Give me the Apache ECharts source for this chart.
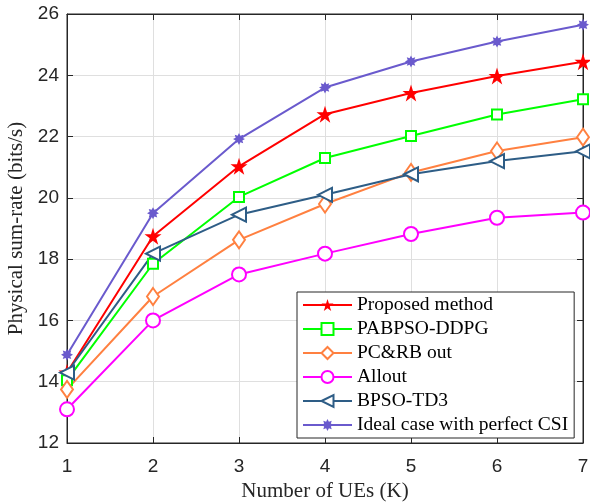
<!DOCTYPE html>
<html>
<head>
<meta charset="utf-8">
<script src="https://cdn.jsdelivr.net/npm/echarts@6/dist/echarts.min.js"></script>
<style>
html, body { margin: 0; padding: 0; background: #fff; }
#main { width: 590px; height: 504px; }
</style>
</head>
<body>
<div id="main"></div>
<script>
// based on prepared DOM, initialize echarts instance
var myChart = echarts.init(document.getElementById('main'));

var ues = [1, 2, 3, 4, 5, 6, 7];
var proposed = [14.3, 18.75, 21.03, 22.73, 23.42, 23.98, 24.44];
var pabpso = [14.05, 17.85, 20.03, 21.3, 22.02, 22.72, 23.22];
var pcrbOut = [13.75, 16.78, 18.63, 19.8, 20.83, 21.53, 21.98];
var allout = [13.1, 16.0, 17.5, 18.18, 18.82, 19.35, 19.52];
var bpsoTd3 = [14.3, 18.18, 19.45, 20.1, 20.77, 21.2, 21.52];
var ideal = [14.88, 19.5, 21.92, 23.6, 24.45, 25.1, 25.65];
var yTicks = [12, 14, 16, 18, 20, 22, 24, 26];

var starPath = 'path://M100,0 L122.5,69.1 L195.1,69.1 L136.3,111.8 L158.8,180.9 L100,138.2 L41.2,180.9 L63.7,111.8 L4.9,69.1 L77.5,69.1 Z';
var asterPath = 'path://M20,10 L15.54,12.3 L17.07,17.07 L12.3,15.54 L10,20 L7.7,15.54 L2.93,17.07 L4.46,12.3 L0,10 L4.46,7.7 L2.93,2.93 L7.7,4.46 L10,0 L12.3,4.46 L17.07,2.93 L15.54,7.7 Z';

function pairs(arr) {
    return arr.map(function (v, i) { return [ues[i], v]; });
}

function makeSeries(name, arr, color, symbol, size, hollow, rotate) {
    return {
        name: name,
        type: 'line',
        data: pairs(arr),
        symbol: symbol,
        symbolSize: size,
        symbolRotate: rotate || 0,
        showAllSymbol: true,
        lineStyle: { color: color, width: 2 },
        itemStyle: hollow
            ? { color: '#fff', borderColor: color, borderWidth: 2 }
            : { color: color, borderColor: color, borderWidth: 0 },
        emphasis: { disabled: true },
        z: 3
    };
}

var tickFont = { fontFamily: 'Liberation Sans', fontSize: 19, color: '#262626' };
var titleFont = { fontFamily: 'Liberation Serif', fontSize: 21, color: '#262626' };

option = {
    animation: false,
    grid: {
        left: 67, right: 7, top: 14, bottom: 61,
        outerBoundsMode: 'none',
        containLabel: false,
        show: true, borderColor: '#262626', borderWidth: 1, backgroundColor: '#fff'
    },
    legend: {
        orient: 'vertical',
        left: 297,
        top: 292,
        padding: [3, 6, 3, 5],
        itemGap: 4,
        itemWidth: 49,
        itemHeight: 15,
        backgroundColor: '#fff',
        borderColor: '#262626',
        borderWidth: 1,
        textStyle: { fontFamily: 'Liberation Serif', fontSize: 19.5, color: '#000' },
        data: ['Proposed method', 'PABPSO-DDPG', 'PC&RB out', 'Allout', 'BPSO-TD3', 'Ideal case with perfect CSI']
    },
    xAxis: [{
        type: 'value',
        min: 1, max: 7, interval: 1,
        name: 'Number of UEs (K)',
        nameLocation: 'middle',
        nameGap: 38,
        nameTextStyle: titleFont,
        axisLine: { show: true, lineStyle: { color: '#262626' } },
        axisTick: { inside: true, length: 6, lineStyle: { color: '#262626' } },
        axisLabel: Object.assign({ margin: 14 }, tickFont),
        splitLine: { show: true, lineStyle: { color: '#dfdfdf', width: 1 } }
    }, {
        type: 'value', position: 'top',
        min: 1, max: 7, interval: 1,
        axisLine: { show: true, lineStyle: { color: '#262626' } },
        axisTick: { inside: true, length: 6, lineStyle: { color: '#262626' } },
        axisLabel: { show: false },
        splitLine: { show: false }
    }],
    yAxis: [{
        type: 'value',
        min: yTicks[0], max: yTicks[yTicks.length - 1], interval: 2,
        name: 'Physical sum-rate (bits/s)',
        nameLocation: 'middle',
        nameGap: 35,
        nameTextStyle: titleFont,
        axisLine: { show: true, lineStyle: { color: '#262626' } },
        axisTick: { inside: true, length: 6, lineStyle: { color: '#262626' } },
        axisLabel: Object.assign({ margin: 8 }, tickFont),
        splitLine: { show: true, lineStyle: { color: '#dfdfdf', width: 1 } }
    }, {
        type: 'value', position: 'right',
        min: yTicks[0], max: yTicks[yTicks.length - 1], interval: 2,
        axisLine: { show: true, lineStyle: { color: '#262626' } },
        axisTick: { inside: true, length: 6, lineStyle: { color: '#262626' } },
        axisLabel: { show: false },
        splitLine: { show: false }
    }],
    series: [
        makeSeries('Proposed method', proposed, '#ff0000', starPath, 17, false),
        makeSeries('PABPSO-DDPG', pabpso, '#00ff00', 'rect', 10, true),
        makeSeries('PC&RB out', pcrbOut, '#ff8040', 'diamond', [12, 17], true),
        makeSeries('Allout', allout, '#ff00ff', 'circle', 14, true),
        makeSeries('BPSO-TD3', bpsoTd3, '#2e5d86', 'triangle', 14, true, 90),
        makeSeries('Ideal case with perfect CSI', ideal, '#6a5acd', asterPath, 12, false)
    ]
};

// use configuration item and data specified to show chart
myChart.setOption(option);
</script>
</body>
</html>
